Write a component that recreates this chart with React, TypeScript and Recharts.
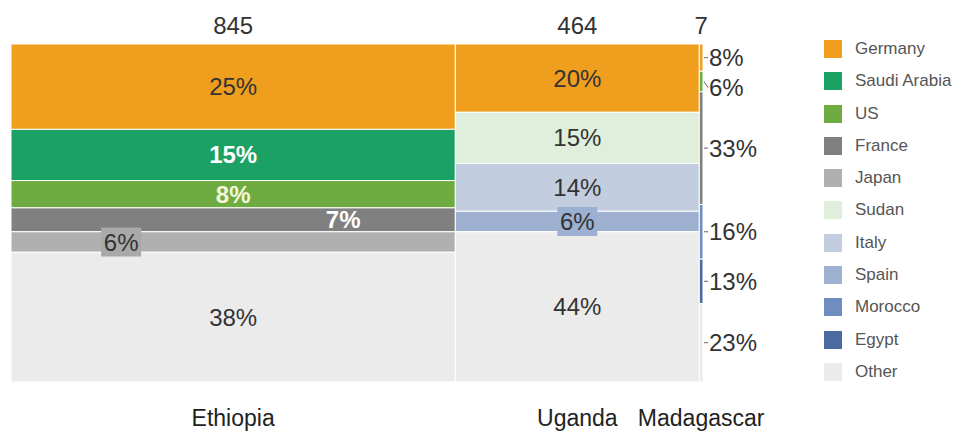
import * as React from "react";
import { ComposedChart, XAxis, YAxis, ReferenceArea } from "recharts";

// Marimekko: column width = total, segment height = partner share
const countries = ["Ethiopia", "Uganda", "Madagascar"];
const totals = [845, 464, 7];

const partners = [
  "Germany",
  "Saudi Arabia",
  "US",
  "France",
  "Japan",
  "Sudan",
  "Italy",
  "Spain",
  "Morocco",
  "Egypt",
  "Other",
];

const partnerColors = [
  "#f09e1e",
  "#1ba163",
  "#6eab40",
  "#808080",
  "#b0b0b0",
  "#e0efdc",
  "#c3cde0",
  "#9eb1d1",
  "#6f8dc0",
  "#4a6aa0",
  "#ebebeb",
];

// shares in %, same order as partners
const ethiopiaShares = [25, 15, 8, 7, 6, 0, 0, 0, 0, 0, 38];
const ugandaShares = [20, 0, 0, 0, 0, 15, 14, 6, 0, 0, 44];
const madagascarShares = [8, 0, 6, 33, 0, 0, 0, 0, 16, 13, 23];

const shareTable = [ethiopiaShares, ugandaShares, madagascarShares];

type LabelLook = {
  color?: string;
  bold?: boolean;
  dx?: number;
  dy?: number;
  box?: string;
  outside?: boolean;
};

// per-cell label looks (kept apart from data)
const labelLooks: Record<string, LabelLook> = {
  "Ethiopia|Saudi Arabia": { color: "#ffffff", bold: true },
  "Ethiopia|US": { color: "#f6f6dc", bold: true },
  "Ethiopia|France": { color: "#ffffff", bold: true, dx: 110 },
  "Ethiopia|Japan": { box: "#a9a9a9", dx: -112 },
  "Uganda|Spain": { box: "#9cb0d1" },
};

const FONT = "'Liberation Sans', Arial, Helvetica, sans-serif";
const grandTotal = totals.reduce((a, b) => a + b, 0);

const columns = countries.map((name, i) => {
  const start = totals.slice(0, i).reduce((a, b) => a + b, 0);
  return { name, total: totals[i], start, end: start + totals[i], mid: start + totals[i] / 2 };
});

const cells = columns.flatMap((col, ci) => {
  const shares = shareTable[ci];
  const sum = shares.reduce((a, b) => a + b, 0);
  let cum = 0;
  const out: any[] = [];
  shares.forEach((v, pi) => {
    if (v <= 0) return;
    const top = 100 - (cum / sum) * 100;
    cum += v;
    const bottom = 100 - (cum / sum) * 100;
    out.push({
      key: `${col.name}|${partners[pi]}`,
      x1: col.start,
      x2: col.end,
      y1: bottom,
      y2: top,
      fill: partnerColors[pi],
      text: `${v}%`,
      look:
        ci === 2
          ? { outside: true, dy: partners[pi] === "US" ? 6 : 0 }
          : labelLooks[`${col.name}|${partners[pi]}`] || {},
    });
  });
  return out;
});

const CellLabel = (props: any) => {
  const { viewBox, text, look } = props;
  if (!viewBox) return null;
  const { x, y, width, height } = viewBox;
  const cy = y + height / 2;
  const l: LabelLook = look || {};
  if (l.outside) {
    const lx = x + width;
    const ty = cy + (l.dy || 0);
    return (
      <g>
        <line x1={lx + 1} y1={cy} x2={lx + 5} y2={ty} stroke="#666" strokeWidth={1} />
        <text x={lx + 6} y={ty} dominantBaseline="central" fontFamily={FONT} fontSize={24} fill="#333">
          {text}
        </text>
      </g>
    );
  }
  const cx = x + width / 2 + (l.dx || 0);
  return (
    <g>
      {l.box && <rect x={cx - 20} y={cy - 14.5} width={40} height={29} fill={l.box} />}
      <text
        x={cx}
        y={cy + (l.dy || 0)}
        textAnchor="middle"
        dominantBaseline="central"
        fontFamily={FONT}
        fontSize={24}
        fontWeight={l.bold ? "bold" : "normal"}
        fill={l.color || "#333"}
      >
        {text}
      </text>
    </g>
  );
};

const nameByMid = (v: number) => columns.find((c) => c.mid === v)?.name ?? "";
const totalByMid = (v: number) => String(columns.find((c) => c.mid === v)?.total ?? "");

export default function App() {
  return (
    <div style={{ position: "absolute", left: 0, top: 0, width: 958, height: 432, background: "#fff" }}>
      <ComposedChart
        width={958}
        height={432}
        data={columns}
        margin={{ top: 14, right: 255, bottom: 20, left: 11 }}
      >
        <XAxis
          xAxisId="bottom"
          type="number"
          dataKey="mid"
          domain={[0, grandTotal]}
          ticks={columns.map((c) => c.mid)}
          tickFormatter={nameByMid}
          interval={0}
          axisLine={false}
          tickLine={false}
          tickSize={0}
          tickMargin={28}
          height={30}
          tick={{ fontFamily: FONT, fontSize: 23, fill: "#222" }}
          allowDataOverflow
        />
        <XAxis
          xAxisId="top"
          orientation="top"
          type="number"
          dataKey="mid"
          domain={[0, grandTotal]}
          ticks={columns.map((c) => c.mid)}
          tickFormatter={totalByMid}
          interval={0}
          axisLine={false}
          tickLine={false}
          tickSize={0}
          tickMargin={10}
          height={30}
          tick={{ fontFamily: FONT, fontSize: 24, fill: "#333" }}
          allowDataOverflow
        />
        <YAxis type="number" domain={[0, 100]} hide allowDataOverflow />
        {cells.map((c) => (
          <ReferenceArea
            key={c.key}
            xAxisId="bottom"
            x1={c.x1}
            x2={c.x2}
            y1={c.y1}
            y2={c.y2}
            fill={c.fill}
            fillOpacity={1}
            stroke="#ffffff"
            strokeWidth={1}
            ifOverflow="visible"
          />
        ))}
        {/* labels in a second pass so boxes sit above neighbouring cells */}
        {cells.map((c) => (
          <ReferenceArea
            key={`${c.key}-label`}
            xAxisId="bottom"
            x1={c.x1}
            x2={c.x2}
            y1={c.y1}
            y2={c.y2}
            fill="none"
            fillOpacity={0}
            stroke="none"
            ifOverflow="visible"
            label={<CellLabel text={c.text} look={c.look} />}
          />
        ))}
      </ComposedChart>
      <div style={{ position: "absolute", left: 824, top: 40, fontFamily: FONT }}>
        {partners.map((p, i) => (
          <div key={p} style={{ display: "flex", alignItems: "center", height: 18, marginBottom: 14.3 }}>
            <div style={{ width: 18, height: 18, background: partnerColors[i] }} />
            <span style={{ marginLeft: 13, fontSize: 17, color: "#555", whiteSpace: "nowrap" }}>{p}</span>
          </div>
        ))}
      </div>
    </div>
  );
}
